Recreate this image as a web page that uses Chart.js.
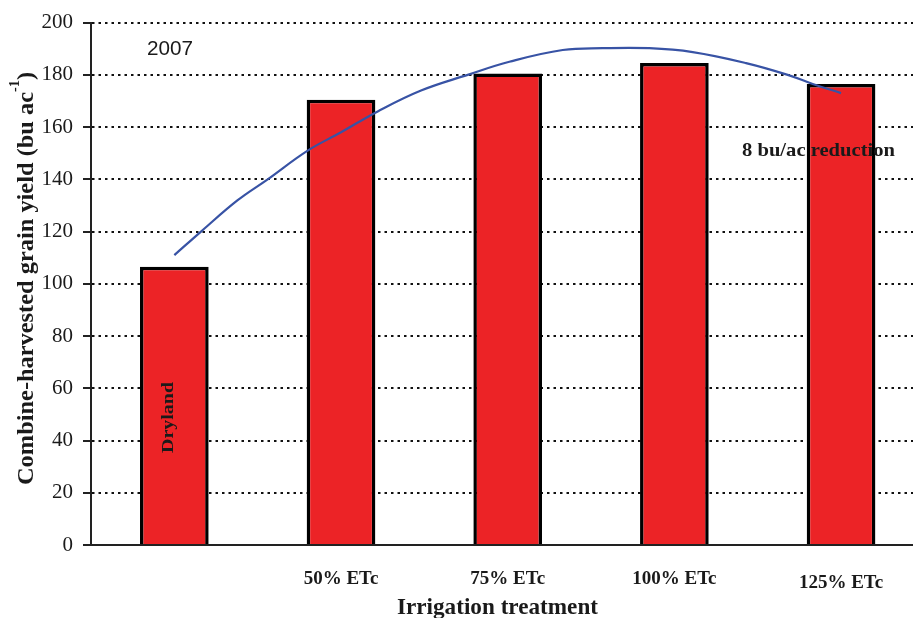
<!DOCTYPE html>
<html>
<head>
<meta charset="utf-8">
<script src="https://cdn.jsdelivr.net/npm/chart.js@4/dist/chart.umd.min.js"></script>
<style>
html,body{margin:0;padding:0;background:#fff;overflow:hidden;}
#wrap{width:926px;height:618px;}
</style>
</head>
<body>
<div id="wrap"><canvas id="c" width="926" height="618"></canvas></div>
<script>
// ---- data ----
const categories = ['Dryland', '50% ETc', '75% ETc', '100% ETc', '125% ETc'];
const yieldValues = [106.5, 170.5, 180.5, 184.5, 176.5];
const xTickLabels = ['', '50% ETc', '75% ETc', '100% ETc', '125% ETc'];
const yTickValues = [0, 20, 40, 60, 80, 100, 120, 140, 160, 180, 200];
// fitted trend curve (category-index position, yield)
const curveX = [0, 0.16, 0.38, 0.56, 0.8, 1.0, 1.22, 1.48, 1.76, 2.01, 2.33, 2.57, 2.85, 3.11, 3.43, 3.68, 3.83, 4.0];
const curveY = [111, 120, 132, 140, 151, 158, 166, 174, 180, 185, 189.5, 190.2, 190.2, 188.7, 184.5, 180, 176.5, 173];
const yearLabel = '2007';
const barNote = 'Dryland';
const reductionNote = '8 bu/ac reduction';
const yTitleMain = 'Combine-harvested grain yield (bu ac';
const yTitleSup = '-1';
const yTitleEnd = ')';
const xTitle = 'Irrigation treatment';

const SERIF = '"Liberation Serif", "Times New Roman", serif';
const INK = '#1a1a1a';

function fitText(ctx, text, x, y, w, align) {
  const m = ctx.measureText(text).width;
  ctx.save();
  ctx.translate(x, y);
  ctx.scale(w / m, 1);
  ctx.textAlign = 'left';
  ctx.fillText(text, align === 'center' ? -m / 2 : 0, 0);
  ctx.restore();
}

const textPlugin = {
  id: 'texts',
  afterDraw(chart) {
    const ctx = chart.ctx;
    const xs = chart.scales.x;
    ctx.save();
    ctx.fillStyle = INK;
    ctx.textBaseline = 'alphabetic';

    // year label
    ctx.font = '20px "Liberation Sans", Arial, sans-serif';
    fitText(ctx, yearLabel, 147, 55, 46, 'left');

    // reduction note
    ctx.font = 'bold 19px ' + SERIF;
    fitText(ctx, reductionNote, 742, 156, 153, 'left');

    // Dryland label inside bar (rotated)
    ctx.save();
    ctx.translate(xs.getPixelForValue(0) - 1, 453);
    ctx.rotate(-Math.PI / 2);
    ctx.font = 'bold 17.5px ' + SERIF;
    fitText(ctx, barNote, 0, 0, 71, 'left');
    ctx.restore();

    // x category labels
    ctx.font = 'bold 19px ' + SERIF;
    xTickLabels.forEach((lab, i) => {
      if (!lab) return;
      const px = xs.getPixelForValue(i);
      const by = i === 4 ? 588 : 584;
      fitText(ctx, lab, px, by, ctx.measureText(lab).width, 'center');
    });

    // x title
    ctx.font = 'bold 23px ' + SERIF;
    fitText(ctx, xTitle, 497.5, 614, 201, 'center');

    // y title with superscript
    ctx.save();
    ctx.translate(33, 485);
    ctx.rotate(-Math.PI / 2);
    const mainF = 'bold 24px ' + SERIF;
    const supF = 'bold 14px ' + SERIF;
    ctx.font = mainF;
    const w1 = ctx.measureText(yTitleMain).width;
    const w3 = ctx.measureText(yTitleEnd).width;
    ctx.font = supF;
    const w2 = ctx.measureText(yTitleSup).width;
    const s = 413 / (w1 + w2 + w3);
    ctx.scale(s, 1);
    ctx.textAlign = 'left';
    ctx.font = mainF;
    ctx.fillText(yTitleMain, 0, 0);
    ctx.font = supF;
    ctx.fillText(yTitleSup, w1, -14.5);
    ctx.font = mainF;
    ctx.fillText(yTitleEnd, w1 + w2, 0);
    ctx.restore();

    ctx.restore();
  }
};

new Chart(document.getElementById('c'), {
  type: 'bar',
  data: {
    labels: categories,
    datasets: [
      {
        type: 'line',
        data: curveX.map((x, i) => ({ x: x, y: curveY[i] })),
        xAxisID: 'xc',
        yAxisID: 'y',
        borderColor: '#3853a5',
        borderWidth: 2.2,
        pointRadius: 0,
        tension: 0.4,
        fill: false,
        order: 0
      },
      {
        type: 'bar',
        data: yieldValues,
        xAxisID: 'x',
        yAxisID: 'y',
        backgroundColor: '#ec2326',
        borderColor: '#000000',
        borderWidth: 3.5,
        borderSkipped: 'start',
        grouped: false,
        categoryPercentage: 1,
        barPercentage: 0.412,
        order: 1
      }
    ]
  },
  options: {
    responsive: false,
    animation: false,
    events: [],
    layout: { padding: { top: 21, right: 1.6, left: 0, bottom: 0 } },
    plugins: { legend: { display: false }, tooltip: { enabled: false } },
    scales: {
      x: {
        type: 'category',
        offset: true,
        grid: { display: false },
        border: { display: true, color: '#222', width: 2 },
        ticks: { display: false },
        afterFit(scale) { scale.height = 73; }
      },
      xc: {
        type: 'linear',
        display: false,
        offset: false,
        grid: { offset: false },
        min: -0.5,
        max: 4.5
      },
      y: {
        type: 'linear',
        min: 0,
        max: 200,
        afterBuildTicks(scale) { scale.ticks = yTickValues.map(v => ({ value: v })); },
        afterFit(scale) { scale.width = 91; },
        grid: {
          color: '#111',
          lineWidth: 2,
          drawTicks: true,
          tickLength: 8,
          tickColor: '#222',
          tickWidth: 2,
          tickBorderDash: []
        },
        border: { display: true, color: '#222', width: 2, dash: [2.5, 4] },
        ticks: {
          color: INK,
          padding: 10,
          font: { family: SERIF, size: 21 }
        }
      }
    }
  },
  plugins: [textPlugin]
});
</script>
</body>
</html>
